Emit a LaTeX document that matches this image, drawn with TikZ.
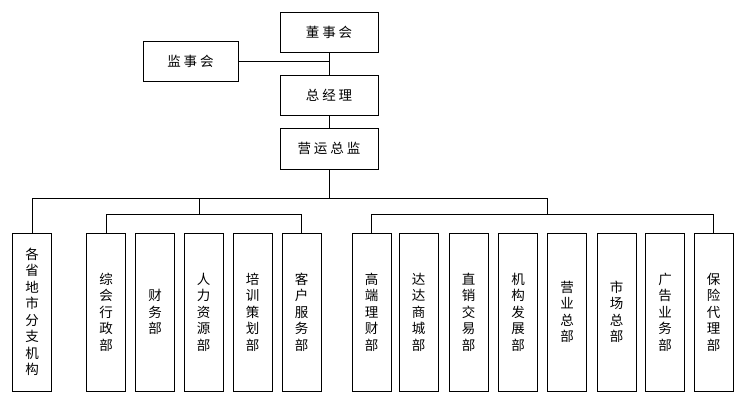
\documentclass[tikz,border=0pt]{standalone}
\usepackage{fontspec}
\newfontfamily\cjk{Noto Sans CJK SC}
\newcommand\gapc{\hspace{3pt}}
\begin{document}
\begin{tikzpicture}[x=1pt,y=-1pt, line width=0.8pt,
  topbox/.style={draw, minimum width=98pt, minimum height=40pt, inner sep=0pt,
    font=\cjk\fontsize{13.5}{16}\selectfont},
  deptbox/.style={draw, minimum width=39pt, minimum height=158pt, inner sep=0pt,
    align=center, font=\cjk\fontsize{13.5}{16.5}\selectfont}]
\useasboundingbox (0,0) rectangle (750,400);

\node[topbox] (dsh) at (329,32) {董\gapc 事\gapc 会};
\node[topbox, minimum width=95pt] (jsh) at (190.5,61) {监\gapc 事\gapc 会};
\node[topbox] (zjl) at (329,95) {总\gapc 经\gapc 理};
\node[topbox, minimum height=41pt] (yyzj) at (329,148.5) {营\gapc 运\gapc 总\gapc 监};

\node[deptbox] (d1) at (32,312) {各\\省\\地\\市\\分\\支\\机\\构};

\node[deptbox] (a1) at (106,312) {综\\会\\行\\政\\部};
\node[deptbox] (a2) at (155,312) {财\\务\\部};
\node[deptbox] (a3) at (203.5,312) {人\\力\\资\\源\\部};
\node[deptbox] (a4) at (252.5,312) {培\\训\\策\\划\\部};
\node[deptbox] (a5) at (301.5,312) {客\\户\\服\\务\\部};

\node[deptbox] (b1) at (371.5,312) {高\\端\\理\\财\\部};
\node[deptbox] (b2) at (418.5,312) {达\\达\\商\\城\\部};
\node[deptbox] (b3) at (468.5,312) {直\\销\\交\\易\\部};
\node[deptbox] (b4) at (518,312) {机\\构\\发\\展\\部};
\node[deptbox] (b5) at (567,312) {营\\业\\总\\部};
\node[deptbox] (b6) at (616.5,312) {市\\场\\总\\部};
\node[deptbox] (b7) at (665,312) {广\\告\\业\\务\\部};
\node[deptbox] (b8) at (713.5,312) {保\\险\\代\\理\\部};

\coordinate (bus) at (329,198);
\coordinate (busR) at (547,198);
\coordinate (mA) at (199,198);
\coordinate (mA2) at (199,215);
\coordinate (mB2) at (547,215);

\draw (dsh) -- (zjl);
\draw (jsh.east) -- (jsh.east -| dsh.south);
\draw (zjl) -- (yyzj);
\draw (yyzj.south) -- (bus);
\draw (d1.north) |- (busR);
\draw (mA) -- (mA2);
\draw (busR) -- (mB2);
\draw (a1.north) -- ++(0,-18) -| (a5.north);
\draw (b1.north) -- ++(0,-18) -| (b8.north);
\end{tikzpicture}
\end{document}
